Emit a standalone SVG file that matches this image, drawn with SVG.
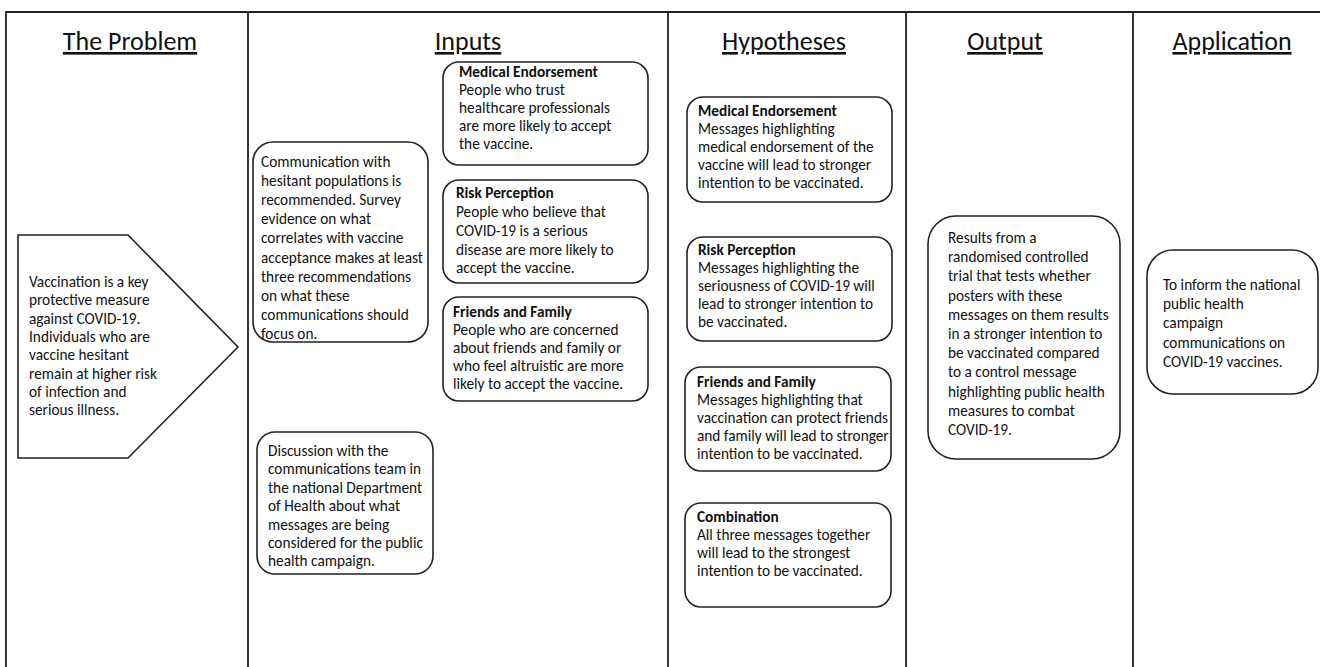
<svg xmlns="http://www.w3.org/2000/svg" width="1320" height="667" viewBox="0 0 1320 667">
<style>
text{font-family:Carlito,Lato,"Liberation Sans",sans-serif;fill:#111;}
.h{font-size:26px;text-anchor:middle;text-decoration:underline;}
.t{font-size:15.3px;}
.b{font-weight:bold;}
.box{fill:#fff;stroke:#222;stroke-width:1.6;}
.grid{stroke:#222;stroke-width:1.8;fill:none;}
</style>
<rect width="1320" height="667" fill="#fff"/>
<g id="grid">
<path class="grid" d="M6,667 V12 H1320 M248,12 V667 M668,12 V667 M906,12 V667 M1133,12 V667"/>
</g>
<g id="headers">
<text class="h" x="130" y="50">The Problem</text>
<text class="h" x="468" y="50">Inputs</text>
<text class="h" x="784" y="50">Hypotheses</text>
<text class="h" x="1005" y="50">Output</text>
<text class="h" x="1232" y="50">Application</text>
</g>
<g id="connectors"></g>
<g id="problem">
<polygon class="box" points="18,235 128,235 238,347 128,458 18,458"/>
<text class="t" x="29" y="287">
<tspan x="29">Vaccination is a key</tspan>
<tspan x="29" dy="18.3">protective measure</tspan>
<tspan x="29" dy="18.3">against COVID-19.</tspan>
<tspan x="29" dy="18.3">Individuals who are</tspan>
<tspan x="29" dy="18.3">vaccine hesitant</tspan>
<tspan x="29" dy="18.3">remain at higher risk</tspan>
<tspan x="29" dy="18.3">of infection and</tspan>
<tspan x="29" dy="18.3">serious illness.</tspan>
</text>
</g>
<g id="input-communication">
<rect class="box" x="253" y="142" width="175" height="200" rx="20"/>
<text class="t" x="261" y="167">
<tspan x="261">Communication with</tspan>
<tspan x="261" dy="19.1">hesitant populations is</tspan>
<tspan x="261" dy="19.1">recommended. Survey</tspan>
<tspan x="261" dy="19.1">evidence on what</tspan>
<tspan x="261" dy="19.1">correlates with vaccine</tspan>
<tspan x="261" dy="19.1">acceptance makes at least</tspan>
<tspan x="261" dy="19.1">three recommendations</tspan>
<tspan x="261" dy="19.1">on what these</tspan>
<tspan x="261" dy="19.1">communications should</tspan>
<tspan x="261" dy="19.1">focus on.</tspan>
</text>
</g>
<g id="input-discussion">
<rect class="box" x="257" y="432" width="176" height="142" rx="18"/>
<text class="t" x="268" y="456">
<tspan x="268">Discussion with the</tspan>
<tspan x="268" dy="18.4">communications team in</tspan>
<tspan x="268" dy="18.4">the national Department</tspan>
<tspan x="268" dy="18.4">of Health about what</tspan>
<tspan x="268" dy="18.4">messages are being</tspan>
<tspan x="268" dy="18.4">considered for the public</tspan>
<tspan x="268" dy="18.4">health campaign.</tspan>
</text>
</g>
<g id="input-medical">
<rect class="box" x="443" y="62" width="205" height="103" rx="16"/>
<text class="t" x="459" y="77">
<tspan x="459" class="b">Medical Endorsement</tspan>
<tspan x="459" dy="18">People who trust</tspan>
<tspan x="459" dy="18">healthcare professionals</tspan>
<tspan x="459" dy="18">are more likely to accept</tspan>
<tspan x="459" dy="18">the vaccine.</tspan>
</text>
</g>
<g id="input-risk">
<rect class="box" x="443" y="180" width="205" height="103" rx="16"/>
<text class="t" x="456" y="198">
<tspan x="456" class="b">Risk Perception</tspan>
<tspan x="456" dy="19">People who believe that</tspan>
<tspan x="456" dy="19">COVID-19 is a serious</tspan>
<tspan x="456" dy="19">disease are more likely to</tspan>
<tspan x="456" dy="18">accept the vaccine.</tspan>
</text>
</g>
<g id="input-friends">
<rect class="box" x="443" y="297" width="205" height="104" rx="16"/>
<text class="t" x="453" y="317">
<tspan x="453" class="b">Friends and Family</tspan>
<tspan x="453" dy="18">People who are concerned</tspan>
<tspan x="453" dy="18">about friends and family or</tspan>
<tspan x="453" dy="18">who feel altruistic are more</tspan>
<tspan x="453" dy="18">likely to accept the vaccine.</tspan>
</text>
</g>
<g id="hyp-medical">
<rect class="box" x="687" y="97" width="205" height="105" rx="16"/>
<text class="t" x="698" y="116">
<tspan x="698" class="b">Medical Endorsement</tspan>
<tspan x="698" dy="18">Messages highlighting</tspan>
<tspan x="698" dy="18">medical endorsement of the</tspan>
<tspan x="698" dy="18">vaccine will lead to stronger</tspan>
<tspan x="698" dy="18">intention to be vaccinated.</tspan>
</text>
</g>
<g id="hyp-risk">
<rect class="box" x="687" y="237" width="205" height="104" rx="16"/>
<text class="t" x="698" y="255">
<tspan x="698" class="b">Risk Perception</tspan>
<tspan x="698" dy="18">Messages highlighting the</tspan>
<tspan x="698" dy="18">seriousness of COVID-19 will</tspan>
<tspan x="698" dy="18">lead to stronger intention to</tspan>
<tspan x="698" dy="18">be vaccinated.</tspan>
</text>
</g>
<g id="hyp-friends">
<rect class="box" x="685" y="367" width="206" height="104" rx="16"/>
<text class="t" x="697" y="387">
<tspan x="697" class="b">Friends and Family</tspan>
<tspan x="697" dy="18">Messages highlighting that</tspan>
<tspan x="697" dy="18">vaccination can protect friends</tspan>
<tspan x="697" dy="18">and family will lead to stronger</tspan>
<tspan x="697" dy="18">intention to be vaccinated.</tspan>
</text>
</g>
<g id="hyp-combination">
<rect class="box" x="685" y="503" width="206" height="104" rx="16"/>
<text class="t" x="697" y="522">
<tspan x="697" class="b">Combination</tspan>
<tspan x="697" dy="18">All three messages together</tspan>
<tspan x="697" dy="18">will lead to the strongest</tspan>
<tspan x="697" dy="18">intention to be vaccinated.</tspan>
</text>
</g>
<g id="output">
<rect class="box" x="928" y="216" width="192" height="243" rx="28"/>
<text class="t" x="948" y="243">
<tspan x="948">Results from a</tspan>
<tspan x="948" dy="19.2">randomised controlled</tspan>
<tspan x="948" dy="19.2">trial that tests whether</tspan>
<tspan x="948" dy="19.2">posters with these</tspan>
<tspan x="948" dy="19.2">messages on them results</tspan>
<tspan x="948" dy="19.2">in a stronger intention to</tspan>
<tspan x="948" dy="19.2">be vaccinated compared</tspan>
<tspan x="948" dy="19.2">to a control message</tspan>
<tspan x="948" dy="19.2">highlighting public health</tspan>
<tspan x="948" dy="19.2">measures to combat</tspan>
<tspan x="948" dy="19.2">COVID-19.</tspan>
</text>
</g>
<g id="application">
<rect class="box" x="1147" y="250" width="171" height="144" rx="26"/>
<text class="t" x="1163" y="290">
<tspan x="1163">To inform the national</tspan>
<tspan x="1163" dy="19.2">public health</tspan>
<tspan x="1163" dy="19.2">campaign</tspan>
<tspan x="1163" dy="19.2">communications on</tspan>
<tspan x="1163" dy="19.2">COVID-19 vaccines.</tspan>
</text>
</g>
</svg>
